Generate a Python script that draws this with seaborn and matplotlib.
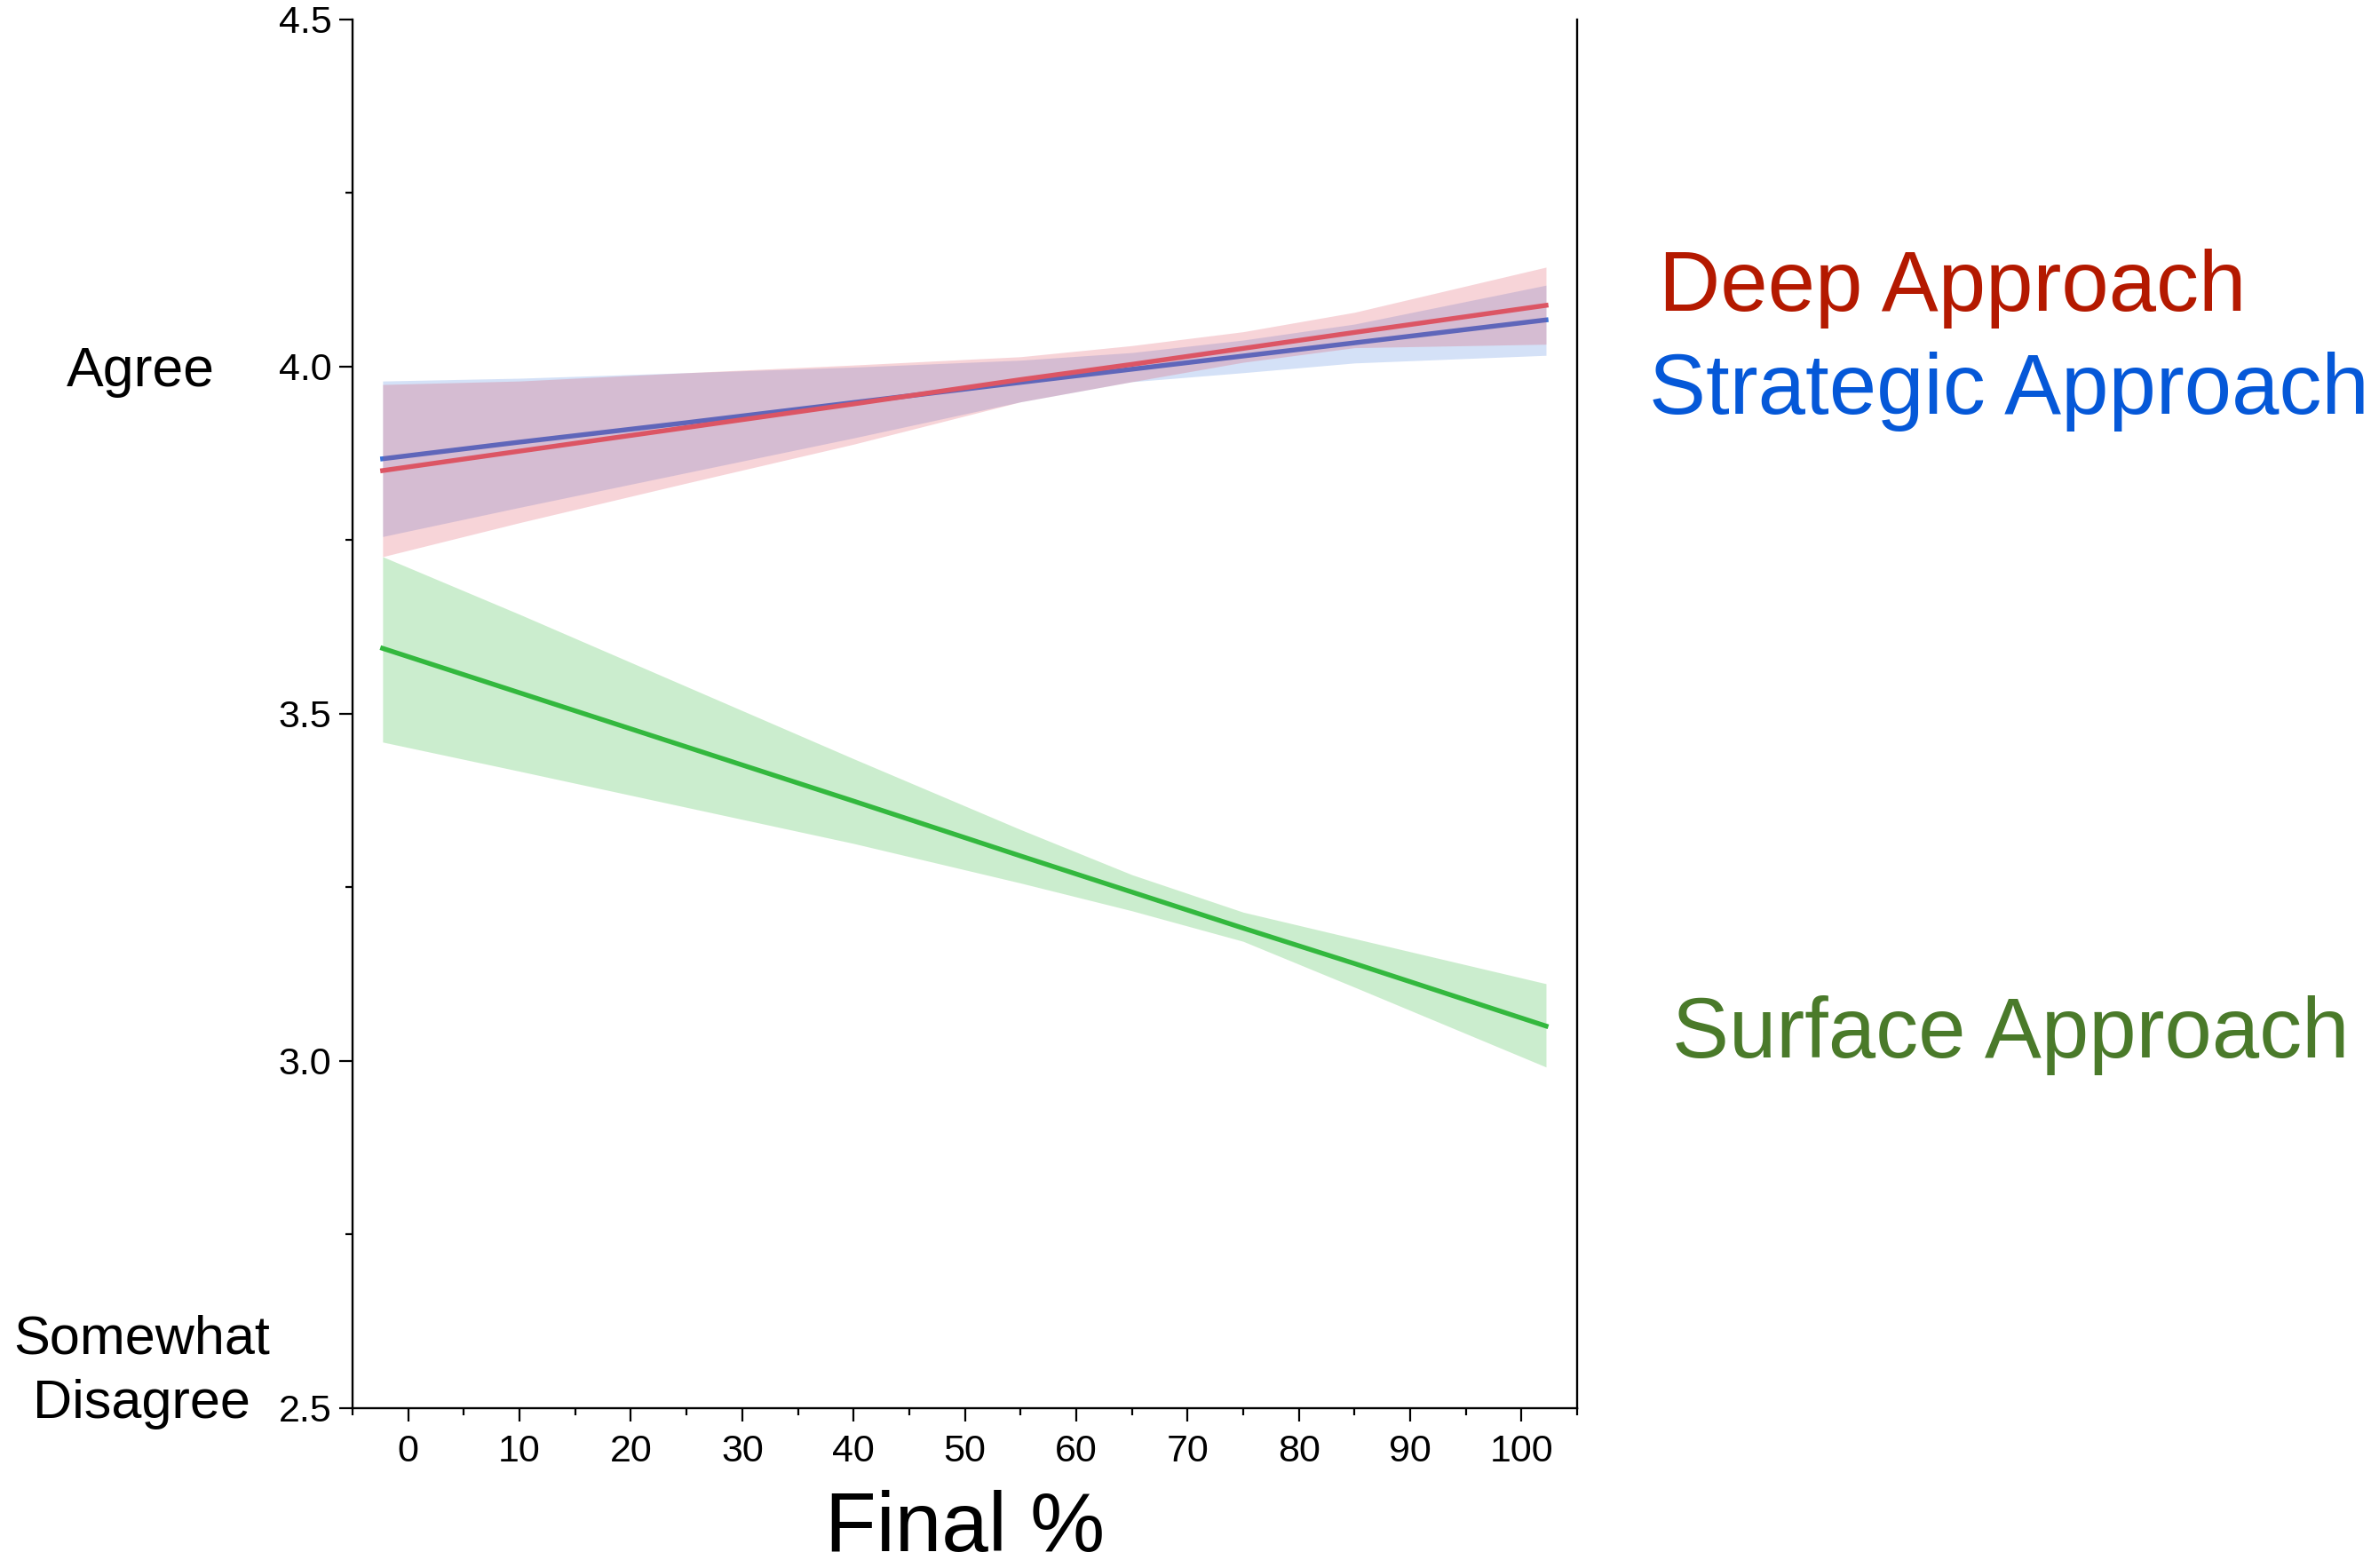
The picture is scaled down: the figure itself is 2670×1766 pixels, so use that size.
"""
Learning approach vs final grade: fitted lines with confidence bands.
"""

import numpy as np
import pandas as pd
import matplotlib
matplotlib.use("Agg")
import matplotlib.pyplot as plt
from matplotlib.ticker import MultipleLocator, FormatStrFormatter
import seaborn as sns

# Data
final_pct = [-2.3, 10, 25, 40, 55, 65, 75, 85, 102.2]

deep_fit = [3.850, 3.878, 3.912, 3.946, 3.981, 4.003, 4.026, 4.049, 4.088]
deep_lo = [3.726, 3.775, 3.832, 3.888, 3.949, 3.978, 4.006, 4.027, 4.032]
deep_hi = [3.974, 3.979, 3.991, 4.002, 4.014, 4.030, 4.050, 4.078, 4.143]

strategic_fit = [3.867, 3.891, 3.919, 3.948, 3.977, 3.996, 4.015, 4.034, 4.067]
strategic_lo = [3.755, 3.797, 3.847, 3.897, 3.949, 3.978, 3.991, 4.005, 4.016]
strategic_hi = [3.979, 3.983, 3.991, 3.999, 4.009, 4.020, 4.038, 4.061, 4.117]

surface_fit = [3.594, 3.530, 3.452, 3.374, 3.295, 3.243, 3.191, 3.140, 3.050]
surface_lo = [3.459, 3.417, 3.365, 3.313, 3.256, 3.216, 3.172, 3.106, 2.991]
surface_hi = [3.726, 3.643, 3.539, 3.435, 3.333, 3.268, 3.214, 3.176, 3.111]

y_ticks = [2.5, 3.0, 3.5, 4.0, 4.5]
x_ticks = [0, 10, 20, 30, 40, 50, 60, 70, 80, 90, 100]

# Colors
LINE_COLORS = {'Strategic': '#3C73D8', 'Deep': '#DC5564', 'Surface': '#33B83E'}
BAND_COLORS = {'Strategic': '#3C78DC', 'Deep': '#DC3C50', 'Surface': '#33B93C'}
TEXT_COLORS = {'Deep': '#B41900', 'Strategic': '#0558D8', 'Surface': '#4A7A2A'}

sns.set_style('ticks')
plt.rcParams['font.family'] = ['Liberation Sans', 'DejaVu Sans']
plt.rcParams['text.color'] = 'black'

df = pd.DataFrame({
    'Final': final_pct * 3,
    'Score': deep_fit + strategic_fit + surface_fit,
    'Approach': ['Deep'] * 9 + ['Strategic'] * 9 + ['Surface'] * 9,
})
bands = {
    'Strategic': (strategic_lo, strategic_hi),
    'Deep': (deep_lo, deep_hi),
    'Surface': (surface_lo, surface_hi),
}

fig = plt.figure(figsize=(26.7, 17.66), dpi=100)
ax = fig.add_axes([0.1487, 0.1021, 0.5165, 0.8856])

# band then line for each series, later series drawn on top
z = 1
for name in ['Strategic', 'Deep', 'Surface']:
    lo, hi = bands[name]
    alpha = 0.25 if name == 'Surface' else 0.22
    ax.fill_between(final_pct, lo, hi, color=BAND_COLORS[name], alpha=alpha,
                    linewidth=0, zorder=z)
    sns.lineplot(data=df[df['Approach'] == name], x='Final', y='Score',
                 color=LINE_COLORS[name], linewidth=3.9, ax=ax,
                 solid_capstyle='projecting', zorder=z + 1)
    z += 2

ax.set_xlim(-5, 105)
ax.set_ylim(2.5, 4.5)
ax.set_xticks(x_ticks)
ax.set_yticks(y_ticks)
ax.xaxis.set_minor_locator(MultipleLocator(5))
ax.yaxis.set_minor_locator(MultipleLocator(0.25))
ax.yaxis.set_major_formatter(FormatStrFormatter('%.1f'))
ax.set_xlabel('')
ax.set_ylabel('')

ax.spines['top'].set_visible(False)
for side in ['left', 'bottom', 'right']:
    ax.spines[side].set_linewidth(1.7)
    ax.spines[side].set_color('black')
    ax.spines[side].set_zorder(10)
ax.tick_params(which='major', length=11, width=1.6, labelsize=31, pad=6,
               color='black', labelcolor='black')
ax.tick_params(which='minor', length=6, width=1.6, color='black')
ax.tick_params(axis='x', which='major', pad=10)

# Axis annotations
fig.text(0.0592, 0.7537, 'Agree', ha='center', va='baseline', fontsize=45)
fig.text(0.0599, 0.1365, 'Somewhat', ha='center', va='baseline', fontsize=44)
fig.text(0.0599, 0.0959, 'Disagree', ha='center', va='baseline', fontsize=44)
fig.text(0.4069, 0.011, 'Final %', ha='center', va='baseline', fontsize=68)

# Series labels
fig.text(0.6996, 0.8018, 'Deep Approach', color=TEXT_COLORS['Deep'],
         ha='left', va='baseline', fontsize=69)
fig.text(0.6955, 0.7361, 'Strategic Approach', color=TEXT_COLORS['Strategic'],
         ha='left', va='baseline', fontsize=69)
fig.text(0.7052, 0.3256, 'Surface Approach', color=TEXT_COLORS['Surface'],
         ha='left', va='baseline', fontsize=69)

fig.savefig('out.png', dpi=100)
